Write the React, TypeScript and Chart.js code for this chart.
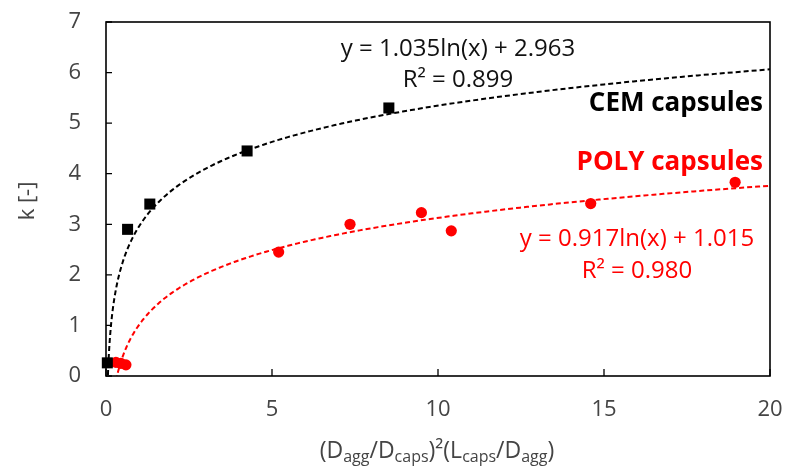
import React, { useEffect, useRef } from "react";
import { Chart, registerables } from "chart.js";

Chart.register(...registerables);

const cemX = [0.04, 0.65, 1.32, 4.25, 8.52];
const cemY = [0.26, 2.9, 3.4, 4.45, 5.3];
const polyX = [0.3, 0.45, 0.6, 5.2, 7.35, 9.5, 10.4, 14.6, 18.95];
const polyY = [0.27, 0.25, 0.22, 2.45, 3.0, 3.23, 2.87, 3.41, 3.83];

// Logarithmic trendline coefficients printed on the chart
const cemTrend = { a: 1.035, b: 2.963, r2: "0.899", from: 0.02, to: 20 };
const polyTrend = { a: 0.917, b: 1.015, r2: "0.980", from: 0.3, to: 20 };

const xTicks = [0, 5, 10, 15, 20];
const yTicks = [0, 1, 2, 3, 4, 5, 6, 7];

const FONT = "'Open Sans', Lato, sans-serif";

function trendPoints(t: { a: number; b: number; from: number; to: number }) {
  const pts: { x: number; y: number }[] = [];
  const n = 240;
  const l0 = Math.log(t.from);
  const l1 = Math.log(t.to);
  for (let i = 0; i <= n; i++) {
    const x = Math.exp(l0 + ((l1 - l0) * i) / n);
    pts.push({ x, y: t.a * Math.log(x) + t.b });
  }
  return pts;
}

const overlayPlugin = {
  id: "overlay",
  afterDatasetsDraw(chart: any) {
    const { ctx, chartArea, scales } = chart;
    const xs = scales.x;
    const ys = scales.y;
    ctx.save();
    // frame
    ctx.strokeStyle = "#000";
    ctx.lineWidth = 1.6;
    ctx.strokeRect(chartArea.left, chartArea.top, chartArea.right - chartArea.left, chartArea.bottom - chartArea.top);
    // inward ticks
    ctx.lineWidth = 1.3;
    ctx.beginPath();
    yTicks.forEach((v) => {
      const y = ys.getPixelForValue(v);
      ctx.moveTo(chartArea.left, y);
      ctx.lineTo(chartArea.left + 6, y);
    });
    xTicks.forEach((v) => {
      const x = xs.getPixelForValue(v);
      ctx.moveTo(x, chartArea.bottom);
      ctx.lineTo(x, chartArea.bottom - 7);
    });
    ctx.stroke();

    // equations and labels
    ctx.textAlign = "center";
    ctx.textBaseline = "middle";
    ctx.fillStyle = "#111";
    ctx.font = `24px ${FONT}`;
    ctx.fillText(`y = ${cemTrend.a.toFixed(3)}ln(x) + ${cemTrend.b.toFixed(3)}`, 458, 49);
    ctx.fillText(`R² = ${cemTrend.r2}`, 458, 80);
    ctx.fillStyle = "#ff0000";
    ctx.fillText(`y = ${polyTrend.a.toFixed(3)}ln(x) + ${polyTrend.b.toFixed(3)}`, 637, 239);
    ctx.fillText(`R² = ${polyTrend.r2}`, 637, 271);

    ctx.textAlign = "right";
    ctx.font = `bold 26px ${FONT}`;
    ctx.fillStyle = "#000";
    ctx.fillText("CEM capsules", 763, 104);
    ctx.fillStyle = "#ff0000";
    ctx.fillText("POLY capsules", 763, 163);

    // y title
    ctx.fillStyle = "#444";
    ctx.font = `22px ${FONT}`;
    ctx.save();
    ctx.translate(28, 201);
    ctx.rotate(-Math.PI / 2);
    ctx.textAlign = "center";
    ctx.fillText("k [-]", 0, 0);
    ctx.restore();

    // x title with subscripts
    const segs: [string, boolean][] = [
      ["(D", false], ["agg", true], ["/D", false], ["caps", true], [")²(L", false],
      ["caps", true], ["/D", false], ["agg", true], [")", false],
    ];
    const mainF = `23px ${FONT}`;
    const subF = `16px ${FONT}`;
    let total = 0;
    segs.forEach(([s, sub]) => {
      ctx.font = sub ? subF : mainF;
      total += ctx.measureText(s).width;
    });
    let cx = 437 - total / 2;
    ctx.textAlign = "left";
    ctx.textBaseline = "alphabetic";
    segs.forEach(([s, sub]) => {
      ctx.font = sub ? subF : mainF;
      ctx.fillText(s, cx, sub ? 462 : 458);
      cx += ctx.measureText(s).width;
    });
    ctx.restore();
  },
};

export default function App() {
  const ref = useRef<HTMLCanvasElement | null>(null);
  useEffect(() => {
    if (!ref.current) return;
    const chart = new Chart(ref.current, {
      type: "scatter",
      data: {
        datasets: [
          {
            label: "CEM trend",
            data: trendPoints(cemTrend),
            showLine: true,
            borderColor: "#000",
            borderWidth: 2,
            borderDash: [5, 3],
            pointRadius: 0,
            clip: 0,
          } as any,
          {
            label: "POLY trend",
            data: trendPoints(polyTrend),
            showLine: true,
            borderColor: "#ff0000",
            borderWidth: 2,
            borderDash: [5, 3],
            pointRadius: 0,
            clip: 0,
          } as any,
          {
            label: "CEM capsules",
            data: cemX.map((x, i) => ({ x, y: cemY[i] })),
            pointStyle: "rect",
            pointRadius: 7.8,
            backgroundColor: "#000",
            borderColor: "#000",
            borderWidth: 0,
            clip: false,
          } as any,
          {
            label: "POLY capsules",
            data: polyX.map((x, i) => ({ x, y: polyY[i] })),
            pointStyle: "circle",
            pointRadius: 5.6,
            backgroundColor: "#ff0000",
            borderColor: "#ff0000",
            borderWidth: 0,
            clip: false,
          } as any,
        ],
      },
      options: {
        animation: false,
        responsive: false,
        devicePixelRatio: 1,
        layout: { padding: { top: 22, right: 16, left: 0, bottom: 0 } },
        plugins: { legend: { display: false }, tooltip: { enabled: false } },
        scales: {
          x: {
            type: "linear",
            min: 0,
            max: 20,
            afterFit: (s: any) => { s.height = 92; s.paddingLeft = 0; s.paddingRight = 0; },
            afterBuildTicks: (s: any) => { s.ticks = xTicks.map((v) => ({ value: v })); },
            grid: { display: false, drawTicks: false },
            border: { display: false },
            ticks: { padding: 21, color: "#444", font: { family: FONT, size: 22 } },
          },
          y: {
            type: "linear",
            min: 0,
            max: 7,
            afterFit: (s: any) => { s.width = 106; s.paddingTop = 0; s.paddingBottom = 0; },
            afterBuildTicks: (s: any) => { s.ticks = yTicks.map((v) => ({ value: v })); },
            grid: { display: false, drawTicks: false },
            border: { display: false },
            ticks: { padding: 25, color: "#444", font: { family: FONT, size: 22 } },
          },
        },
      },
      plugins: [overlayPlugin],
    });
    return () => chart.destroy();
  }, []);
  return (
    <div style={{ position: "absolute", left: 0, top: 0, width: 786, height: 468, background: "#fff" }}>
      <canvas ref={ref} width={786} height={468} />
    </div>
  );
}
